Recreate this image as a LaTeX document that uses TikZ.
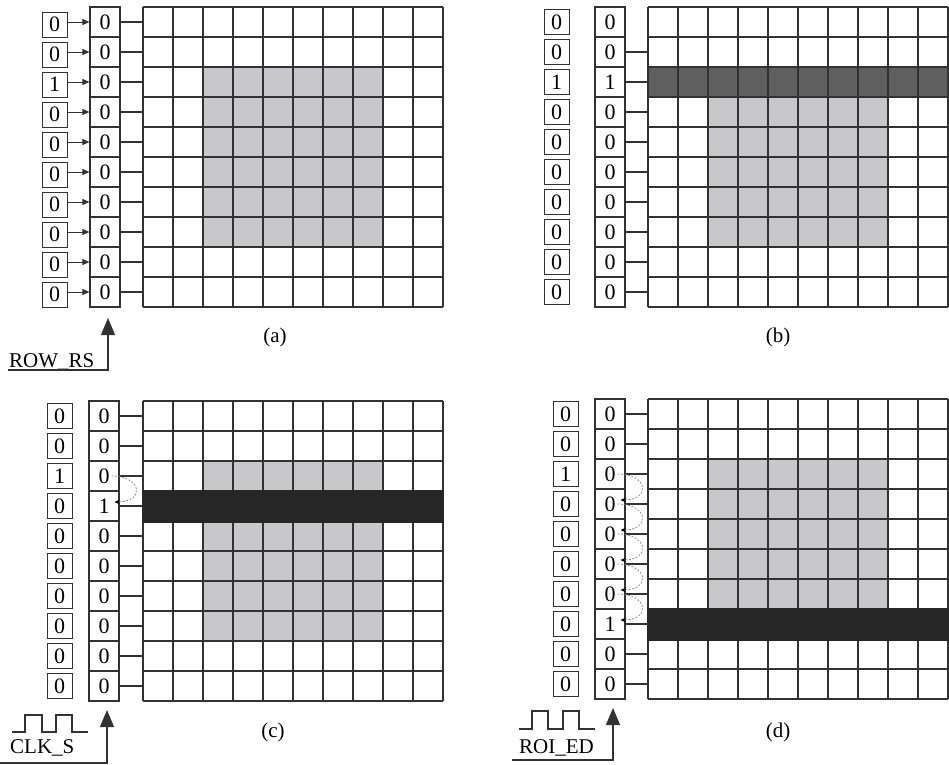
\documentclass[tikz,border=0pt]{standalone}
\usepackage{fontspec}
\setmainfont{Liberation Serif}
\usetikzlibrary{arrows.meta}

\definecolor{roigray}{RGB}{200,200,203}
\definecolor{rowdark}{RGB}{95,95,95}
\definecolor{rowblack}{RGB}{38,38,38}
\definecolor{linegray}{RGB}{50,50,50}

\begin{document}
\begin{tikzpicture}[
  x=1pt, y=-1pt,
  font=\fontsize{21}{24}\selectfont,
  bit/.style={
    draw=linegray, line width=1pt,
    minimum size=25pt, inner sep=0pt, font=\fontsize{22}{24}\selectfont
  },
  cell/.style={
    draw=linegray, line width=1.2pt,
    minimum size=30pt, inner sep=0pt, font=\fontsize{22}{24}\selectfont
  },
  wire/.style={draw=linegray, line width=1.2pt},
  pixline/.style={draw=linegray, line width=1.6pt},
  load/.style={-{Triangle[length=7pt, width=6pt]}, line width=1pt, draw=linegray},
  hop/.style={
    dash pattern=on 2pt off 1.5pt, draw=gray, line width=0.7pt,
    -{Stealth[length=5pt, width=4.5pt, black]}
  },
  sig/.style={-{Triangle[length=17pt, width=14pt]}, line width=1.2pt, draw=linegray},
  sigtext/.style={inner sep=0pt, anchor=base west},
]

\useasboundingbox (0,0) rectangle (949,764);

% (a) row select
\begin{scope}
  \fill[roigray] (203,67) rectangle (383,247);
  \foreach \k in {0,...,10} {
    \draw[pixline] ({143+30*\k},7) -- ({143+30*\k},307);
    \draw[pixline] (143,{7+30*\k}) -- (443,{7+30*\k});
  }
  \coordinate (a-px) at (143,7);
  \foreach \i in {1,...,10}
    \node[cell] (a-m\i) at (105,{-8+30*\i}) {0};
  \foreach \v [count=\i] in {0,0,1,0,0,0,0,0,0,0}
    \node[bit] (a-s\i) at (54.5,{-5.5+30*\i}) {\v};
  \foreach \i in {1,...,10} {
    \draw[wire] (a-m\i.east) -- (a-m\i.east -| a-px);
    \draw[load] (a-s\i.east |- a-m\i) -- (a-m\i.west);
  }
  \node (a-lab) at (275,337) {(a)};
  % reset signal
  \node[sigtext] (a-rs) at (9,367) {ROW\_RS};
  \coordinate (a-rs0) at (8,370);
  \coordinate (a-rs1) at (108,318);
  \draw[sig] (a-rs0) -| (a-rs1);
\end{scope}

% (b) first row loaded
\begin{scope}[shift={(505,0)}]
  \fill[roigray] (203,67) rectangle (383,247);
  \fill[rowdark] (143,67) rectangle (443,97);
  \foreach \k in {0,...,10} {
    \draw[pixline] ({143+30*\k},7) -- ({143+30*\k},307);
    \draw[pixline] (143,{7+30*\k}) -- (443,{7+30*\k});
  }
  \coordinate (b-px) at (143,7);
  \foreach \v [count=\i] in {0,0,1,0,0,0,0,0,0,0}
    \node[cell] (b-m\i) at (105,{-8+30*\i}) {\v};
  \foreach \v [count=\i] in {0,0,1,0,0,0,0,0,0,0}
    \node[bit] (b-s\i) at (51.5,{-8+30*\i}) {\v};
  \foreach \i in {2,...,10}
    \draw[wire] (b-m\i.east) -- (b-m\i.east -| b-px);
  \node (b-lab) at (273,337) {(b)};
\end{scope}

% (c) one shift per clock
\begin{scope}[shift={(0,394)}]
  \fill[roigray] (203,67) rectangle (383,247);
  \foreach \k in {0,...,10} {
    \draw[pixline] ({143+30*\k},7) -- ({143+30*\k},307);
    \draw[pixline] (143,{7+30*\k}) -- (443,{7+30*\k});
  }
  \fill[rowblack] (142,95.5) rectangle (443.5,128.5);
  \coordinate (c-px) at (143,7);
  \foreach \v [count=\i] in {0,0,0,1,0,0,0,0,0,0}
    \node[cell] (c-m\i) at (104,{-8+30*\i}) {\v};
  \foreach \v [count=\i] in {0,0,1,0,0,0,0,0,0,0}
    \node[bit] (c-s\i) at (59.5,{-8+30*\i}) {\v};
  \foreach \i in {1,...,10}
    \draw[wire] (c-m\i.east) -- (c-m\i.east -| c-px);
  \draw[hop] ([xshift=-8pt]c-m3.east) to[out=0, in=0, looseness=3] ([xshift=-5pt, yshift=4pt]c-m4.east);
  \node (c-lab) at (273,338) {(c)};
  % clock
  \draw[wire] (12,338) -- (25,338) -- (25,321) -- (42,321) -- (42,338)
    -- (56,338) -- (56,321) -- (72,321) -- (72,338) -- (88,338);
  \node[sigtext] (c-clk) at (10,359) {CLK\_S};
  \coordinate (c-clk0) at (0,369);
  \coordinate (c-clk1) at (107,316);
  \draw[sig] (c-clk0) -| (c-clk1);
\end{scope}

% (d) shifted to the last ROI row
\begin{scope}[shift={(505,392)}]
  \fill[roigray] (203,67) rectangle (383,247);
  \foreach \k in {0,...,10} {
    \draw[pixline] ({143+30*\k},7) -- ({143+30*\k},307);
    \draw[pixline] (143,{7+30*\k}) -- (443,{7+30*\k});
  }
  \fill[rowblack] (142,215.5) rectangle (444,248.5);
  \coordinate (d-px) at (143,7);
  \foreach \v [count=\i] in {0,0,0,0,0,0,0,1,0,0}
    \node[cell] (d-m\i) at (105,{-8+30*\i}) {\v};
  \foreach \v [count=\i] in {0,0,1,0,0,0,0,0,0,0}
    \node[bit] (d-s\i) at (60.5,{-8+30*\i}) {\v};
  \foreach \i in {1,...,10}
    \draw[wire] (d-m\i.east) -- (d-m\i.east -| d-px);
  \foreach \i [evaluate=\i as \j using int(\i+1)] in {3,...,7}
    \draw[hop] ([xshift=-8pt]d-m\i.east) to[out=0, in=0, looseness=3] ([xshift=-5pt, yshift=4pt]d-m\j.east);
  \node (d-lab) at (273,340) {(d)};
  % end of ROI
  \draw[wire] (14,337) -- (27,337) -- (27,319) -- (43,319) -- (43,337)
    -- (58,337) -- (58,319) -- (74,319) -- (74,337) -- (90,337);
  \node[sigtext] (d-end) at (14,361) {ROI\_ED};
  \coordinate (d-end0) at (7,368);
  \coordinate (d-end1) at (108,316);
  \draw[sig] (d-end0) -| (d-end1);
\end{scope}

\end{tikzpicture}
\end{document}
